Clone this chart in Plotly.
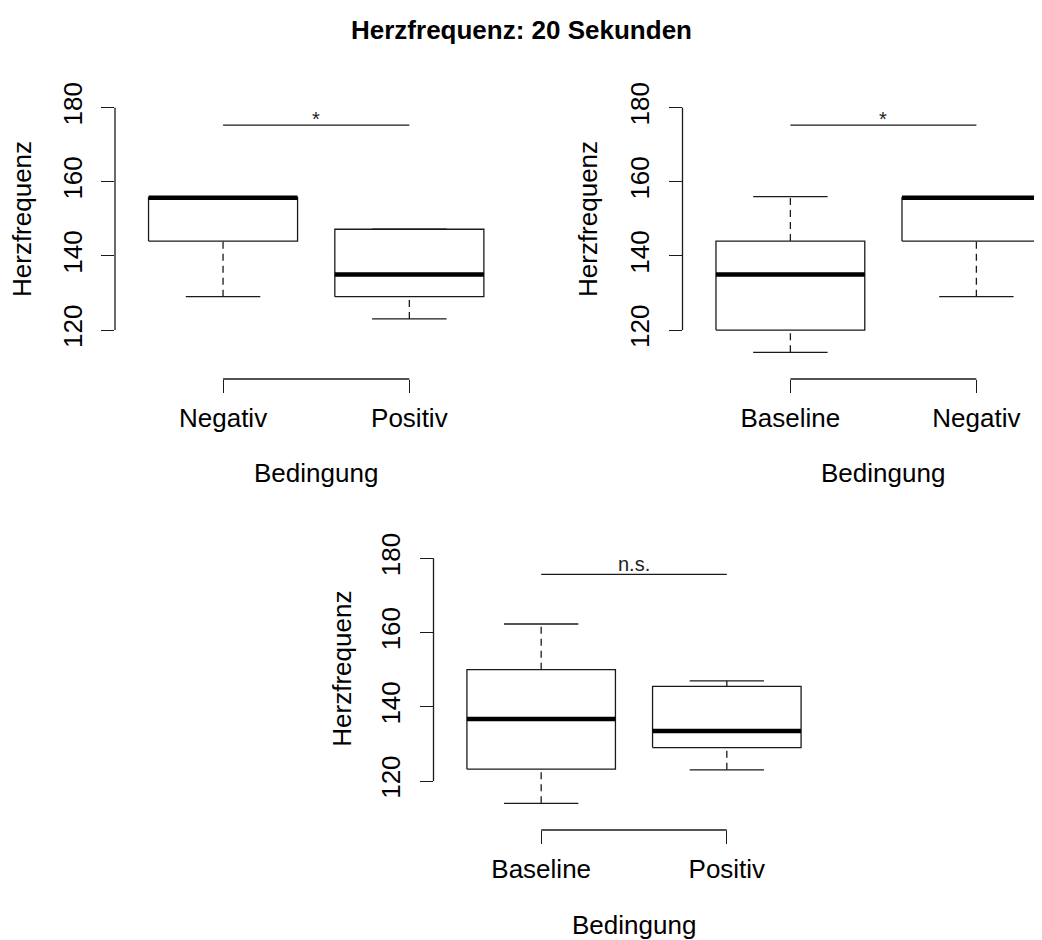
import plotly.graph_objects as go

# The page body has an 8px margin, so the figure is drawn 8px smaller and all
# pixel positions below are shifted by OFF to land where the reference has them.
OFF = 8
W, H = 1042 - OFF, 940 - OFF

# ---------------- data ----------------
title_text = "Herzfrequenz: 20 Sekunden"
y_label = "Herzfrequenz"
x_label = "Bedingung"
y_ticks = [120, 140, 160, 180]

p1_groups = ["Negativ", "Positiv"]
p1_low = [129, 123]
p1_q1 = [144, 129]
p1_med = [155.7, 135]
p1_q3 = [155.7, 147.2]
p1_high = [155.7, 147.2]
p1_sig = "*"
p1_sig_y = 175.3

p2_groups = ["Baseline", "Negativ"]
p2_low = [114, 129]
p2_q1 = [120, 144]
p2_med = [135, 155.7]
p2_q3 = [144, 155.7]
p2_high = [156, 155.7]
p2_sig = "*"
p2_sig_y = 175.3

p3_groups = ["Baseline", "Positiv"]
p3_low = [114, 123]
p3_q1 = [123.2, 129]
p3_med = [136.7, 133.5]
p3_q3 = [150, 145.5]
p3_high = [162.3, 147]
p3_sig = "n.s."
p3_sig_y = 175.7

# ---------------- layout helpers ----------------
FONT = "Liberation Sans, Arial, sans-serif"
LC = "#1a1a1a"
BOX_HALF = 0.4
CAP_HALF = 0.2
Y_RANGE = [106.8, 190]


def px_x(p):
    return (p - OFF) / W


def px_y(p):
    return 1 - (p - OFF) / H


panels = [
    dict(groups=p1_groups, low=p1_low, q1=p1_q1, med=p1_med, q3=p1_q3, high=p1_high,
         sig=p1_sig, sig_y=p1_sig_y,
         xdom=[115, 517.4], xrange=[0.42, 2.58], ydom=[70.6, 379],
         xtitle=(316, 472.7), ytitle=(22, 219)),
    dict(groups=p2_groups, low=p2_low, q1=p2_q1, med=p2_med, q3=p2_q3, high=p2_high,
         sig=p2_sig, sig_y=p2_sig_y,
         xdom=[682.5, 1042], xrange=[0.42, 0.42 + (1042 - 682.5) / 186.0], ydom=[70.6, 379],
         xtitle=(883, 472.7), ytitle=(588, 219)),
    dict(groups=p3_groups, low=p3_low, q1=p3_q1, med=p3_med, q3=p3_q3, high=p3_high,
         sig=p3_sig, sig_y=p3_sig_y,
         xdom=[433.5, 834.5], xrange=[0.42, 2.58], ydom=[521.2, 830],
         xtitle=(634, 925), ytitle=(341.7, 669)),
]

fig = go.Figure()
shapes = []
annotations = []
layout = {}

for i, p in enumerate(panels, start=1):
    xa = "x" if i == 1 else f"x{i}"
    ya = "y" if i == 1 else f"y{i}"
    xkey = "xaxis" if i == 1 else f"xaxis{i}"
    ykey = "yaxis" if i == 1 else f"yaxis{i}"
    centers = list(range(1, len(p["groups"]) + 1))

    for c, lo, q1, md, q3, hi in zip(centers, p["low"], p["q1"], p["med"], p["q3"], p["high"]):
        common = dict(xaxis=xa, yaxis=ya, mode="lines", showlegend=False, hoverinfo="skip")
        # whiskers (dashed)
        fig.add_trace(go.Scatter(x=[c, c], y=[q3, hi], line=dict(color=LC, width=1.3, dash="7px,5px"), **common))
        fig.add_trace(go.Scatter(x=[c, c], y=[lo, q1], line=dict(color=LC, width=1.3, dash="7px,5px"), **common))
        # caps
        fig.add_trace(go.Scatter(x=[c - CAP_HALF, c + CAP_HALF], y=[hi, hi], line=dict(color=LC, width=1.3), **common))
        fig.add_trace(go.Scatter(x=[c - CAP_HALF, c + CAP_HALF], y=[lo, lo], line=dict(color=LC, width=1.3), **common))
        # box
        fig.add_trace(go.Scatter(x=[c - BOX_HALF, c + BOX_HALF, c + BOX_HALF, c - BOX_HALF, c - BOX_HALF],
                                 y=[q1, q1, q3, q3, q1], line=dict(color=LC, width=1.3), **common))
        # median
        fig.add_trace(go.Scatter(x=[c - BOX_HALF, c + BOX_HALF], y=[md, md], line=dict(color="black", width=4.5), **common))

    # significance line
    fig.add_trace(go.Scatter(x=[centers[0], centers[-1]], y=[p["sig_y"], p["sig_y"]], xaxis=xa, yaxis=ya,
                             mode="lines", line=dict(color=LC, width=1.3), showlegend=False, hoverinfo="skip"))
    annotations.append(dict(x=(centers[0] + centers[-1]) / 2, y=p["sig_y"], xref=xa, yref=ya,
                            text=p["sig"], showarrow=False, yanchor="bottom",
                            yshift=-7 if p["sig"] == "*" else -3,
                            font=dict(family=FONT, size=20, color="#222")))

    layout[xkey] = dict(domain=[px_x(p["xdom"][0]), min(1.0, px_x(p["xdom"][1]))], range=p["xrange"],
                        anchor=ya, tickmode="array", tickvals=centers, ticktext=p["groups"],
                        ticks="outside", ticklen=13, tickwidth=1.3, tickcolor=LC,
                        showline=False, showgrid=False, zeroline=False,
                        tickfont=dict(family=FONT, size=26, color="black"), ticklabelstandoff=3)
    layout[ykey] = dict(domain=[px_y(p["ydom"][1]), px_y(p["ydom"][0])], range=Y_RANGE,
                        anchor=xa, tickmode="array", tickvals=y_ticks, ticktext=[str(t) for t in y_ticks],
                        ticks="outside", ticklen=13, tickwidth=1.3, tickcolor=LC, tickangle=-90,
                        showline=False, showgrid=False, zeroline=False,
                        tickfont=dict(family=FONT, size=26, color="black"), ticklabelstandoff=9)

    # y axis line (from first to last tick) and x axis bracket
    shapes.append(dict(type="line", xref=f"{xa} domain", yref=ya, x0=0, x1=0,
                       y0=y_ticks[0], y1=y_ticks[-1], line=dict(color=LC, width=1.3)))
    shapes.append(dict(type="line", xref=xa, yref=f"{ya} domain", x0=centers[0], x1=centers[-1],
                       y0=0, y1=0, line=dict(color=LC, width=1.3)))

    annotations.append(dict(x=px_x(p["xtitle"][0]), y=px_y(p["xtitle"][1]), xref="paper", yref="paper",
                            text=x_label, showarrow=False, xanchor="center", yanchor="middle",
                            font=dict(family=FONT, size=26, color="black")))
    annotations.append(dict(x=px_x(p["ytitle"][0]), y=px_y(p["ytitle"][1]), xref="paper", yref="paper",
                            text=y_label, showarrow=False, xanchor="center", yanchor="middle", textangle=-90,
                            font=dict(family=FONT, size=26, color="black")))

annotations.append(dict(x=px_x(521), y=px_y(30), xref="paper", yref="paper", text=f"<b>{title_text}</b>",
                        showarrow=False, xanchor="center", yanchor="middle",
                        font=dict(family=FONT, size=26, color="black")))

fig.update_layout(width=W, height=H, margin=dict(l=0, r=0, t=0, b=0),
                  paper_bgcolor="white", plot_bgcolor="white",
                  shapes=shapes, annotations=annotations, **layout)

fig.write_html("out.html")
